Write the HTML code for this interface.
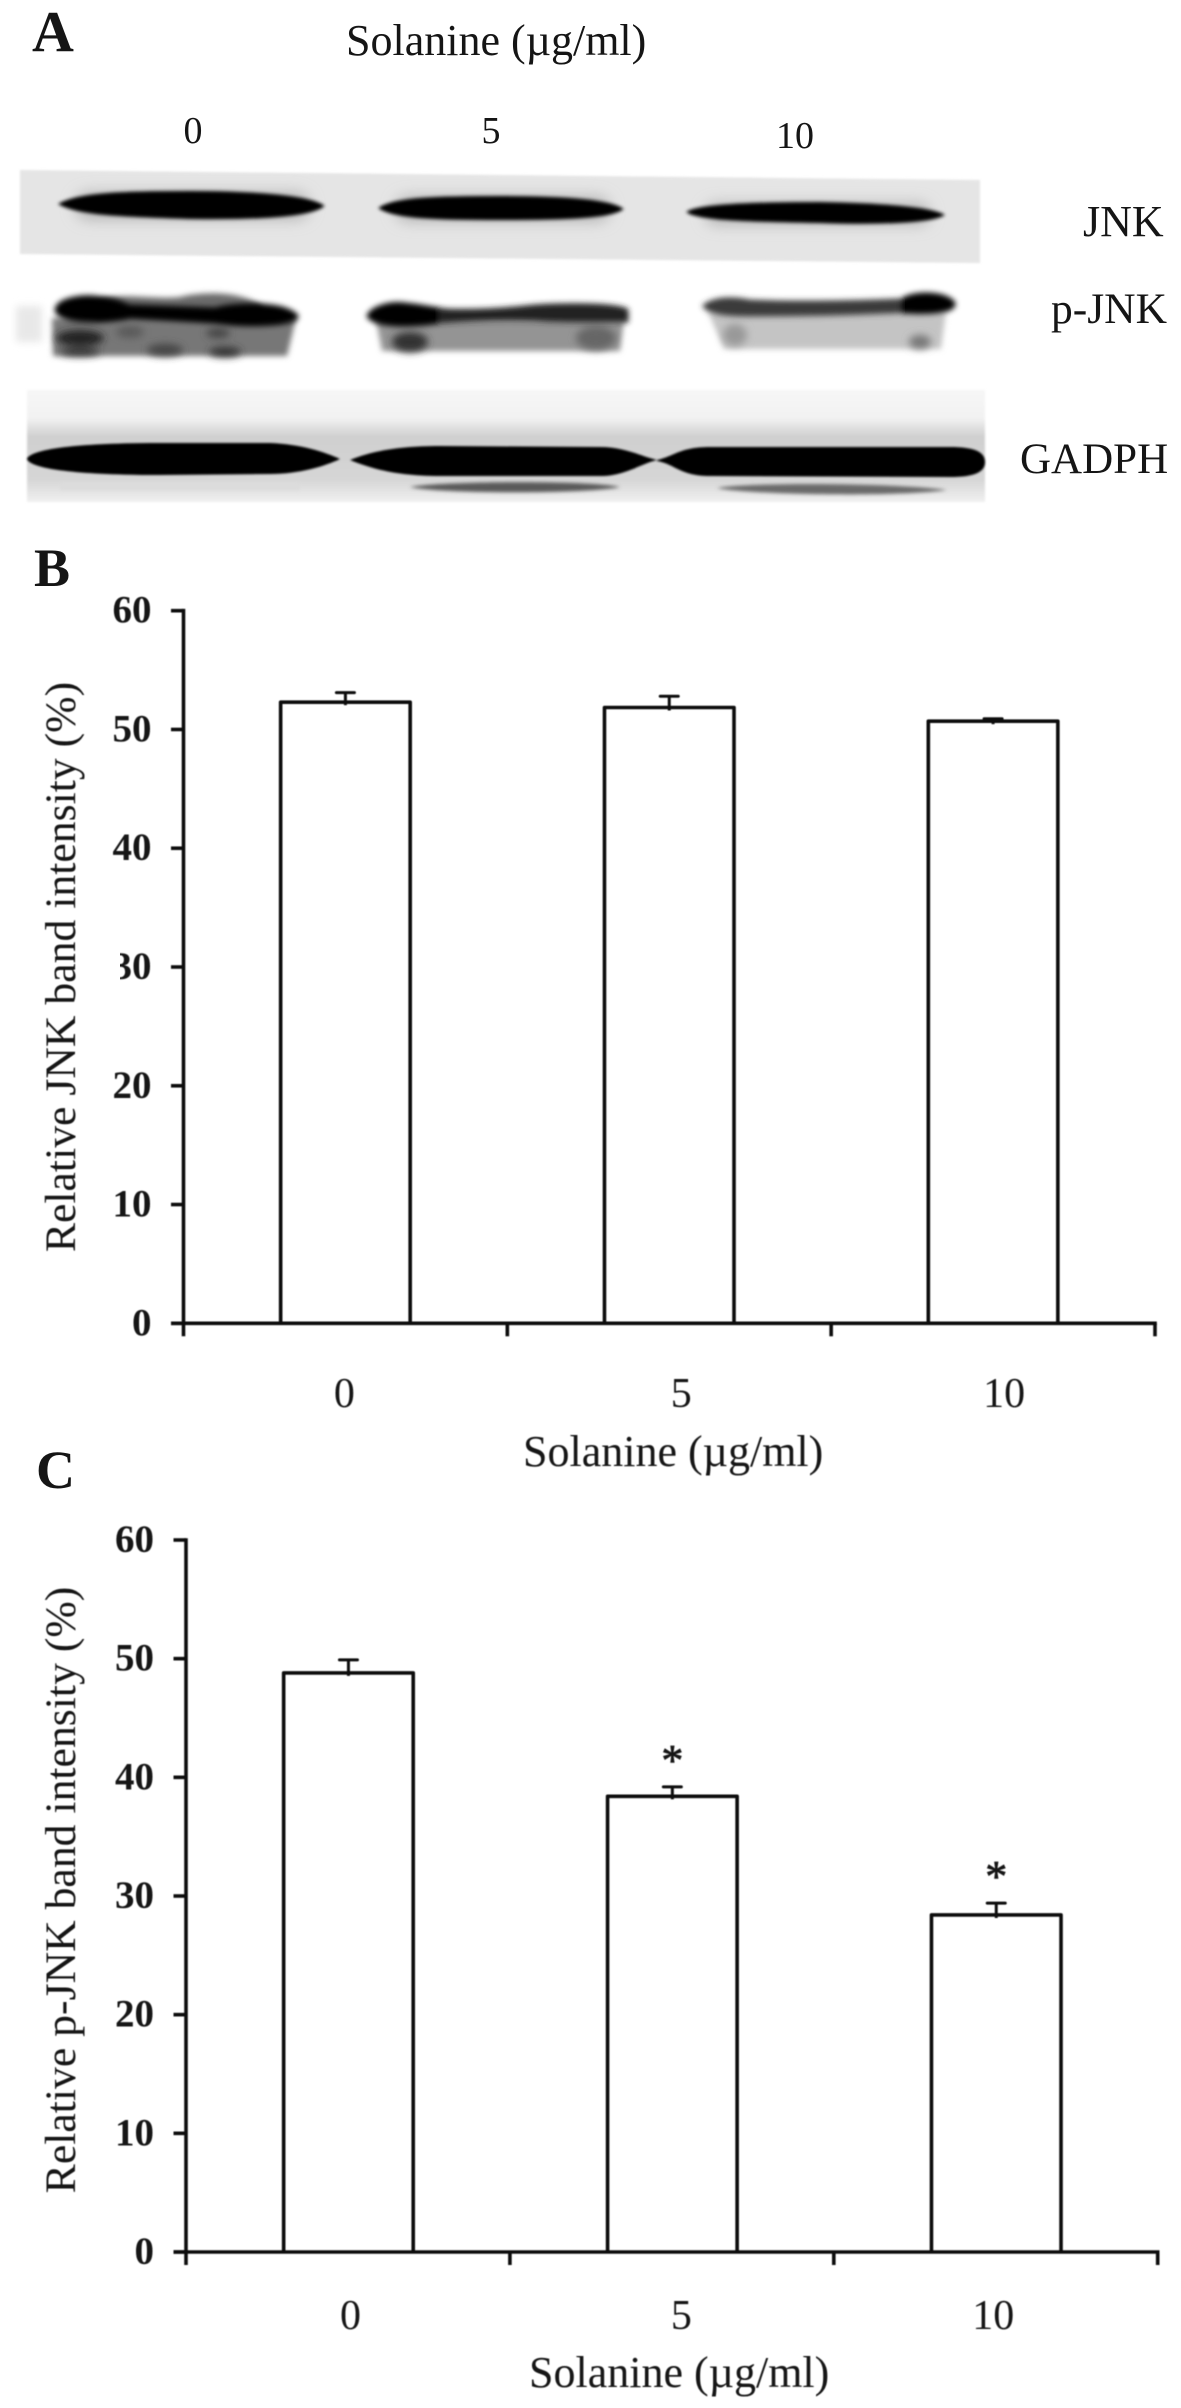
<!DOCTYPE html>
<html lang="en">
<head>
<meta charset="utf-8">
<title>Solanine JNK and p-JNK band intensity</title>
<style>
  html, body { margin: 0; padding: 0; background: #fff; }
  body { width: 1181px; height: 2408px; overflow: hidden; }
  svg { display: block; position: absolute; left: 0; top: 0; }
  text { font-family: "Liberation Serif", serif; fill: #151515; }
</style>
</head>
<body>
<svg id="figure" xmlns="http://www.w3.org/2000/svg" width="1181" height="2408" viewBox="0 0 1181 2408">
  <defs>
    <filter id="b1" x="-10%" y="-30%" width="120%" height="160%"><feGaussianBlur stdDeviation="1"/></filter>
    <filter id="b2" x="-10%" y="-40%" width="120%" height="180%"><feGaussianBlur stdDeviation="1.8"/></filter>
    <filter id="b3" x="-10%" y="-50%" width="120%" height="200%"><feGaussianBlur stdDeviation="3"/></filter>
    <filter id="b4" x="-20%" y="-60%" width="140%" height="220%"><feGaussianBlur stdDeviation="4"/></filter>
    <filter id="b7" x="-20%" y="-80%" width="140%" height="260%"><feGaussianBlur stdDeviation="7"/></filter>
    <filter id="soft"><feGaussianBlur stdDeviation="0.45"/></filter>
    <linearGradient id="gadph-bg" x1="0" y1="0" x2="0" y2="1">
      <stop offset="0" stop-color="#f6f6f6"/>
      <stop offset="0.25" stop-color="#f2f2f2"/>
      <stop offset="0.42" stop-color="#cfcfcf"/>
      <stop offset="0.8" stop-color="#d6d6d6"/>
      <stop offset="1" stop-color="#f0f0f0"/>
    </linearGradient>
  </defs>
  <rect x="0" y="0" width="1181" height="2408" fill="#fff"/>

  <g id="panel-a">
    <text x="32" y="51" font-size="58" font-weight="bold">A</text>
    <text x="346" y="55" font-size="44">Solanine (µg/ml)</text>
    <text x="193" y="143" font-size="38" text-anchor="middle">0</text>
    <text x="491" y="143" font-size="38" text-anchor="middle">5</text>
    <text x="795" y="148" font-size="38" text-anchor="middle">10</text>

    <g>
      <polygon points="20,170 980,180 980,263 20,254" fill="#e5e5e5" filter="url(#b1)"/>
      <g filter="url(#b7)" fill="#b8b8b8">
        <rect x="75" y="192" width="235" height="28" rx="14"/>
        <rect x="395" y="196" width="215" height="26" rx="13"/>
        <rect x="705" y="203" width="225" height="22" rx="11"/>
      </g>
      <g filter="url(#b2)" fill="#000" stroke="#000" stroke-width="2">
        <path d="M60,204 C80,193 130,192 190,192 C260,192 310,197 323,206 C310,216 260,219 190,218 C130,216 80,215 60,204 Z"/>
        <path d="M380,208 C395,198 440,197 500,197 C570,197 610,201 622,209 C610,217 570,219 500,219 C440,219 395,218 380,208 Z"/>
        <path d="M688,212 C700,205 760,203 820,203 C880,204 930,208 943,215 C930,222 880,224 820,222 C760,221 700,220 688,212 Z"/>
      </g>
    </g>

    <g>
      <g filter="url(#b4)">
        <rect x="16" y="306" width="26" height="36" fill="#e8e8e8"/>
      </g>
      <g filter="url(#b3)">
        <path d="M95,300 C120,292 160,300 180,297 C200,292 240,290 262,306 L262,320 L95,320 Z" fill="#6a6a6a"/>
        <path d="M52,318 L296,318 L287,356 L53,356 Z" fill="#777"/>
        <path d="M376,320 L624,320 L620,351 L382,351 Z" fill="#949494"/>
        <path d="M708,312 L946,312 L941,349 L724,349 Z" fill="#c4c4c4"/>
      </g>
      <g filter="url(#b4)">
        <ellipse cx="80" cy="338" rx="24" ry="8" fill="#222"/>
        <ellipse cx="80" cy="352" rx="20" ry="4" fill="#333"/>
        <ellipse cx="165" cy="350" rx="18" ry="6" fill="#444"/>
        <ellipse cx="225" cy="352" rx="16" ry="5" fill="#333"/>
        <ellipse cx="130" cy="332" rx="14" ry="6" fill="#5a5a5a"/>
        <ellipse cx="218" cy="333" rx="12" ry="5" fill="#444"/>
        <ellipse cx="410" cy="342" rx="18" ry="10" fill="#333"/>
        <ellipse cx="596" cy="338" rx="20" ry="12" fill="#666"/>
        <ellipse cx="920" cy="342" rx="11" ry="7" fill="#777"/>
        <ellipse cx="735" cy="335" rx="12" ry="11" fill="#999"/>
      </g>
      <g filter="url(#b3)" fill="#000" stroke-width="3">
        <path d="M56,310 C58,298 85,295 100,298 C120,300 125,305 130,306 L215,309 C235,303 285,302 297,316 C297,325 250,327 215,322 L130,317 C110,322 60,325 56,310 Z" stroke="#000"/>
        <path d="M368,316 C372,307 390,302 405,304 C425,306 440,310 455,311 L440,322 C420,326 375,328 368,316 Z" stroke="#000"/>
        <path d="M440,310 C470,311 500,310 535,306 C570,304 615,304 627,310 L627,321 C590,321 560,322 535,320 C500,319 470,320 440,322 Z" fill="#222" stroke="#222"/>
        <path d="M704,306 C715,297 735,298 750,301 C800,303 850,302 900,300 L900,312 C850,314 800,315 750,315 C730,315 710,314 704,306 Z" fill="#3a3a3a" stroke="#3a3a3a"/>
        <path d="M902,300 C910,292 945,291 954,303 C956,312 930,314 902,312 Z" stroke="#000"/>
      </g>
    </g>

    <g>
      <rect x="27" y="390" width="958" height="112" fill="url(#gadph-bg)" filter="url(#b1)"/>
      <g filter="url(#b2)">
        <rect x="60" y="482" width="240" height="8" fill="#dcdcdc"/>
        <path d="M410,487 C440,481 590,480 620,487 C590,494 440,494 410,487 Z" fill="#5a5a5a"/>
        <path d="M717,488 C750,482 900,483 947,490 C900,497 750,495 717,488 Z" fill="#6a6a6a"/>
      </g>
      <g filter="url(#b1)" fill="#000">
        <path d="M27,459 C30,450 70,443 160,443 L270,443 C300,444 325,452 340,459 C325,466 300,474 270,474 L160,475 C70,475 30,468 27,459 Z"/>
        <path d="M350,460 C370,452 395,446 440,446 L600,447 C625,447 640,456 657,460 C640,464 625,476 600,476 L440,476 C395,476 370,468 350,460 Z"/>
        <path d="M657,460 C675,456 680,447 710,447 L950,447 C975,447 985,452 985,462 C985,472 975,477 950,477 L710,476 C680,476 675,464 657,461 Z"/>
      </g>
    </g>

    <text x="1083" y="236" font-size="44">JNK</text>
    <text x="1051" y="323" font-size="43.5">p-JNK</text>
    <text x="1020" y="473" font-size="43">GADPH</text>
  </g>

  <text x="34" y="586" font-size="54" font-weight="bold">B</text>
  <text x="36" y="1488" font-size="54" font-weight="bold">C</text>
  <g id="chart-b"></g>
  <rect x="106" y="950" width="14" height="34" fill="#fff"/>
  <g id="chart-c"></g>
</svg>

<script>
// Chart data
const doseLabels = ["0", "5", "10"];
const yTickValues = [0, 10, 20, 30, 40, 50, 60];
const jnkMeans = [52.3, 51.85, 50.7];
const jnkErrors = [0.8, 0.95, 0.2];
const pJnkMeans = [48.8, 38.4, 28.4];
const pJnkErrors = [1.1, 0.8, 1.0];
const pJnkSignificance = ["", "*", "*"];
const yAxisMax = 60;

const SVG_NS = "http://www.w3.org/2000/svg";

function makeEl(parent, tag, attrs, content) {
  const el = document.createElementNS(SVG_NS, tag);
  for (const k in attrs) el.setAttribute(k, attrs[k]);
  if (content !== undefined) el.textContent = content;
  parent.appendChild(el);
  return el;
}

function drawChart(root, layout, means, errors, marks) {
  const yScale = v => layout.y0 - (v / yAxisMax) * (layout.y0 - layout.yTop);
  const band = (layout.xRight - layout.x0) / doseLabels.length;
  const xCenter = i => layout.x0 + band * (i + 0.5) + layout.barDx;
  const barW = band * 0.4;
  const line = { stroke: "#111", "stroke-width": 3.6, fill: "none", "stroke-linecap": "butt", "stroke-linejoin": "round" };
  const g = makeEl(root, "g", { filter: "url(#soft)" });

  doseLabels.forEach((label, i) => {
    const cx = xCenter(i);
    const top = yScale(means[i]);
    const capY = yScale(means[i] + errors[i]);

    const stem = makeEl(g, "line", { ...line, "stroke-width": 3, x1: cx, x2: cx, y1: capY, y2: top + 3 });
    
    

    const cap = makeEl(g, "line", { ...line, "stroke-width": 3, "stroke-linecap": "round", x1: cx - 9, x2: cx + 9, y1: capY, y2: capY });
    
    

    const d = "M" + (cx - barW / 2) + "," + layout.y0 + " V" + top + " H" + (cx + barW / 2) + " V" + layout.y0;
    const bar = makeEl(g, "path", { ...line, d: d });
    
    

    const tickLabel = makeEl(g, "text", {
      x: layout.x0 + band * (i + 0.5) + layout.labelDx[i],
      y: layout.xLabelY,
      "font-size": 42,
      "text-anchor": "middle"
    }, label);
    
    

    if (marks && marks[i]) {
      const star = makeEl(g, "text", { x: cx, y: capY - 12, "font-size": 44, "text-anchor": "middle", stroke: "#151515", "stroke-width": 0.8 }, marks[i]);
      
      
    }
  });

  const yAxis = makeEl(g, "line", { ...line, x1: layout.x0, x2: layout.x0, y1: layout.yTop - 1.8, y2: layout.y0 + 13 });
  
  

  const xAxis = makeEl(g, "line", { ...line, x1: layout.x0 - 12.5, x2: layout.xRight + 1.8, y1: layout.y0, y2: layout.y0 });
  
  

  yTickValues.forEach(v => {
    const ty = yScale(v);
    const tick = makeEl(g, "line", { ...line, x1: layout.x0 - 12.5, x2: layout.x0, y1: ty, y2: ty });
    
    

    const tl = makeEl(g, "text", { x: layout.x0 - 32, y: ty + 12, "font-size": 39, "font-weight": "bold", "text-anchor": "end" }, String(v));
    
    
  });

  for (let i = 1; i <= doseLabels.length; i++) {
    const tx = layout.x0 + band * i;
    const tick = makeEl(g, "line", { ...line, x1: tx, x2: tx, y1: layout.y0, y2: layout.y0 + 13 });
    
    
  }

  const xTitle = makeEl(g, "text", { x: layout.xTitleX, y: layout.xTitleY, "font-size": 44 }, "Solanine (µg/ml)");
  
  

  const yTitle = makeEl(g, "text", {
    transform: "translate(75," + layout.yTitleCy + ") rotate(-90)",
    "font-size": 43.7,
    "text-anchor": "middle"
  }, layout.yTitle);
  
  
}

drawChart(document.getElementById("chart-b"), {
  x0: 183.5, xRight: 1155, yTop: 610.7, y0: 1323.3, barDx: 0,
  labelDx: [-1, 12, 11], xLabelY: 1407,
  xTitleX: 523, xTitleY: 1466,
  yTitle: "Relative JNK band intensity (%)", yTitleCy: 967
}, jnkMeans, jnkErrors, null);

drawChart(document.getElementById("chart-c"), {
  x0: 186, xRight: 1157.7, yTop: 1540, y0: 2252, barDx: 0.5,
  labelDx: [2.5, 9.5, -2.5], xLabelY: 2329,
  xTitleX: 529, xTitleY: 2387,
  yTitle: "Relative p-JNK band intensity (%)", yTitleCy: 1890
}, pJnkMeans, pJnkErrors, pJnkSignificance);
</script>
</body>
</html>
